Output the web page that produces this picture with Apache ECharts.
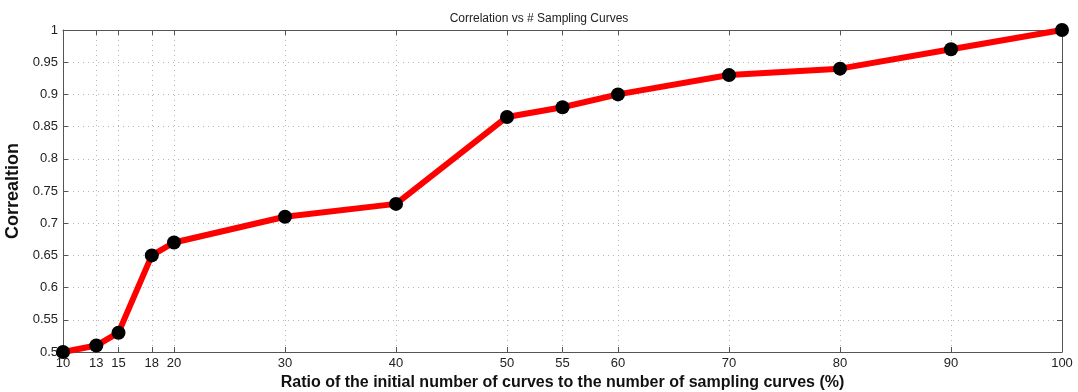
<!DOCTYPE html>
<html><head><meta charset="utf-8">
<script src="https://cdn.jsdelivr.net/npm/echarts@6/dist/echarts.min.js"></script>
<style>html,body{margin:0;padding:0;background:#fff}#c{width:1078px;height:392px}</style>
</head><body><div id="c"></div>
<script>
const xValues = [10, 13, 15, 18, 20, 30, 40, 50, 55, 60, 70, 80, 90, 100];
const yValues = [0.5, 0.51, 0.53, 0.65, 0.67, 0.71, 0.73, 0.865, 0.88, 0.90, 0.93, 0.94, 0.97, 1.0];
const xTickLabels = ['10','13','15','18','20','30','40','50','55','60','70','80','90','100'];
const xMin = 10, xMax = 100;

const cats = [];
for (let v = xMin; v <= xMax; v++) cats.push(String(v));
const tickSet = new Set(xTickLabels);
const isTick = (i, v) => tickSet.has(String(v));

const font = 'Liberation Sans, Arial, Helvetica, sans-serif';
const axisColor = '#555';
const gridLine = { show: true, lineStyle: { color: '#b5b5b5', type: [1, 4], width: 1 } };

const chart = echarts.init(document.getElementById('c'), null, { renderer: 'canvas' });
chart.setOption({
  animation: false,
  title: { text: 'Correlation vs # Sampling Curves', left: 'center', top: 8,
    textStyle: { fontFamily: font, fontSize: 12, fontWeight: 'normal', color: '#222' } },
  grid: { left: 63, right: 16, top: 30, bottom: 40, containLabel: false, outerBoundsMode: 'none' },
  xAxis: [{
    type: 'category', data: cats, boundaryGap: false, position: 'bottom',
    name: 'Ratio of the initial number of curves to the number of sampling curves (%)',
    nameLocation: 'middle', nameGap: 21,
    nameTextStyle: { fontFamily: font, fontSize: 16, fontWeight: 'bold', color: '#111' },
    axisLine: { lineStyle: { color: axisColor, width: 1 } },
    axisTick: { show: true, inside: true, length: 5, interval: isTick, lineStyle: { color: axisColor } },
    axisLabel: { interval: isTick, margin: 5, fontFamily: font, fontSize: 13, color: '#222' },
    splitLine: Object.assign({ interval: isTick }, gridLine)
  }, {
    type: 'category', data: cats, boundaryGap: false, position: 'top',
    axisLine: { show: true, lineStyle: { color: axisColor, width: 1 } },
    axisTick: { show: true, inside: true, length: 5, interval: isTick, lineStyle: { color: axisColor } },
    axisLabel: { show: false }, splitLine: { show: false }
  }],
  yAxis: [{
    type: 'value', min: 0.5, max: 1, interval: 0.05, position: 'left',
    name: 'Correaltion', nameLocation: 'middle', nameGap: 36,
    nameTextStyle: { fontFamily: font, fontSize: 18, fontWeight: 'bold', color: '#111' },
    axisLine: { show: true, lineStyle: { color: axisColor, width: 1 } },
    axisTick: { show: true, inside: true, length: 5, lineStyle: { color: axisColor } },
    axisLabel: { margin: 5, fontFamily: font, fontSize: 13, color: '#222',
      formatter: v => String(Math.round(v * 100) / 100) },
    splitLine: gridLine
  }, {
    type: 'value', min: 0.5, max: 1, interval: 0.05, position: 'right',
    axisLine: { show: true, lineStyle: { color: axisColor, width: 1 } },
    axisTick: { show: true, inside: true, length: 5, lineStyle: { color: axisColor } },
    axisLabel: { show: false }, splitLine: { show: false }
  }],
  series: [{
    type: 'line', xAxisIndex: 0, yAxisIndex: 0, clip: false,
    data: xValues.map((x, i) => [String(x), yValues[i]]),
    lineStyle: { color: '#ff0000', width: 6 },
    itemStyle: { color: '#000', borderWidth: 0 },
    symbol: 'circle', symbolSize: 14, showAllSymbol: true
  }]
});
</script></body></html>
